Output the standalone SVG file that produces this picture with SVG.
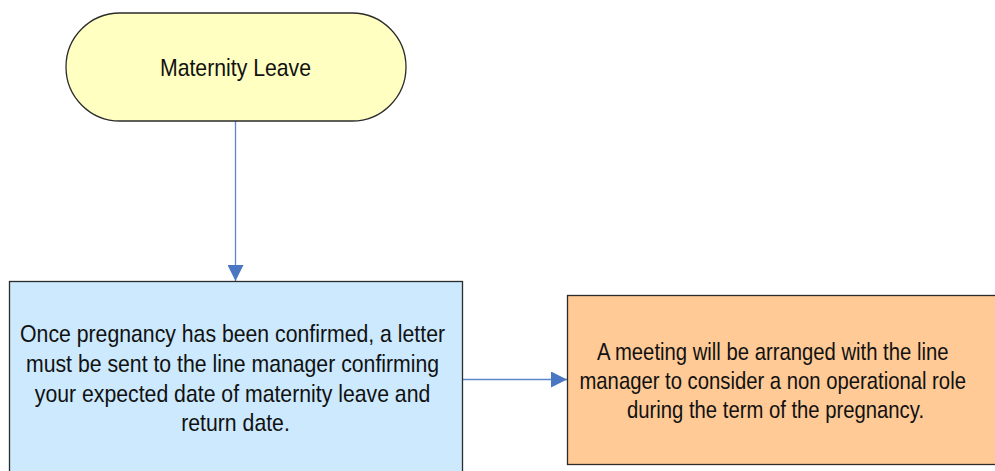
<svg xmlns="http://www.w3.org/2000/svg" width="995" height="471" viewBox="0 0 995 471">
  <style>
    .shape { stroke: #2b2b2b; stroke-width: 1.3; }
    .label { font-family: "Liberation Sans", Arial, sans-serif; font-size: 24px; fill: #111; text-anchor: middle; }
    .conn { fill: none; stroke: #5b86c8; stroke-width: 1.3; }
  </style>
  <defs>
    <marker id="arrow" viewBox="0 0 16 16" refX="16" refY="8" markerWidth="16" markerHeight="16" markerUnits="userSpaceOnUse" orient="auto">
      <path d="M0,0 L16,8 L0,16 Z" fill="#4a76c2"/>
    </marker>
  </defs>
  <rect width="995" height="471" fill="#ffffff"/>

  <!-- connectors -->
  <g id="connectors">
    <path class="conn" d="M235.5,121 L235.5,281" marker-end="url(#arrow)"/>
    <path class="conn" d="M463,379.5 L567,379.5" marker-end="url(#arrow)"/>
  </g>

  <!-- start terminal -->
  <g id="start">
    <rect class="shape" x="66" y="13" width="340" height="108" rx="54" ry="54" fill="#ffffc2"/>
    <text class="label" transform="translate(235.5,76) scale(0.885,1)" x="0" y="0">Maternity Leave</text>
  </g>

  <!-- confirmation letter step -->
  <g id="letter">
    <rect class="shape" x="9.5" y="281.5" width="453" height="200" fill="#cce9fe"/>
    <text class="label" transform="translate(235.5,342) scale(0.885,1)">
      <tspan x="0" y="0">Once pregnancy has been confirmed, a letter</tspan>
      <tspan x="0" y="29.8">must be sent to the line manager confirming</tspan>
      <tspan x="0" y="59.6">your expected date of maternity leave and</tspan>
      <tspan x="0" y="89.4">return date.</tspan>
    </text>
  </g>

  <!-- meeting step -->
  <g id="meeting">
    <rect class="shape" x="567.5" y="295.5" width="440" height="169" fill="#ffca96"/>
    <text class="label" transform="translate(775.5,360) scale(0.845,1)">
      <tspan x="0" y="0">A meeting will be arranged with the line</tspan>
      <tspan x="0" y="29">manager to consider a non operational role</tspan>
      <tspan x="0" y="58">during the term of the pregnancy.</tspan>
    </text>
  </g>
</svg>
